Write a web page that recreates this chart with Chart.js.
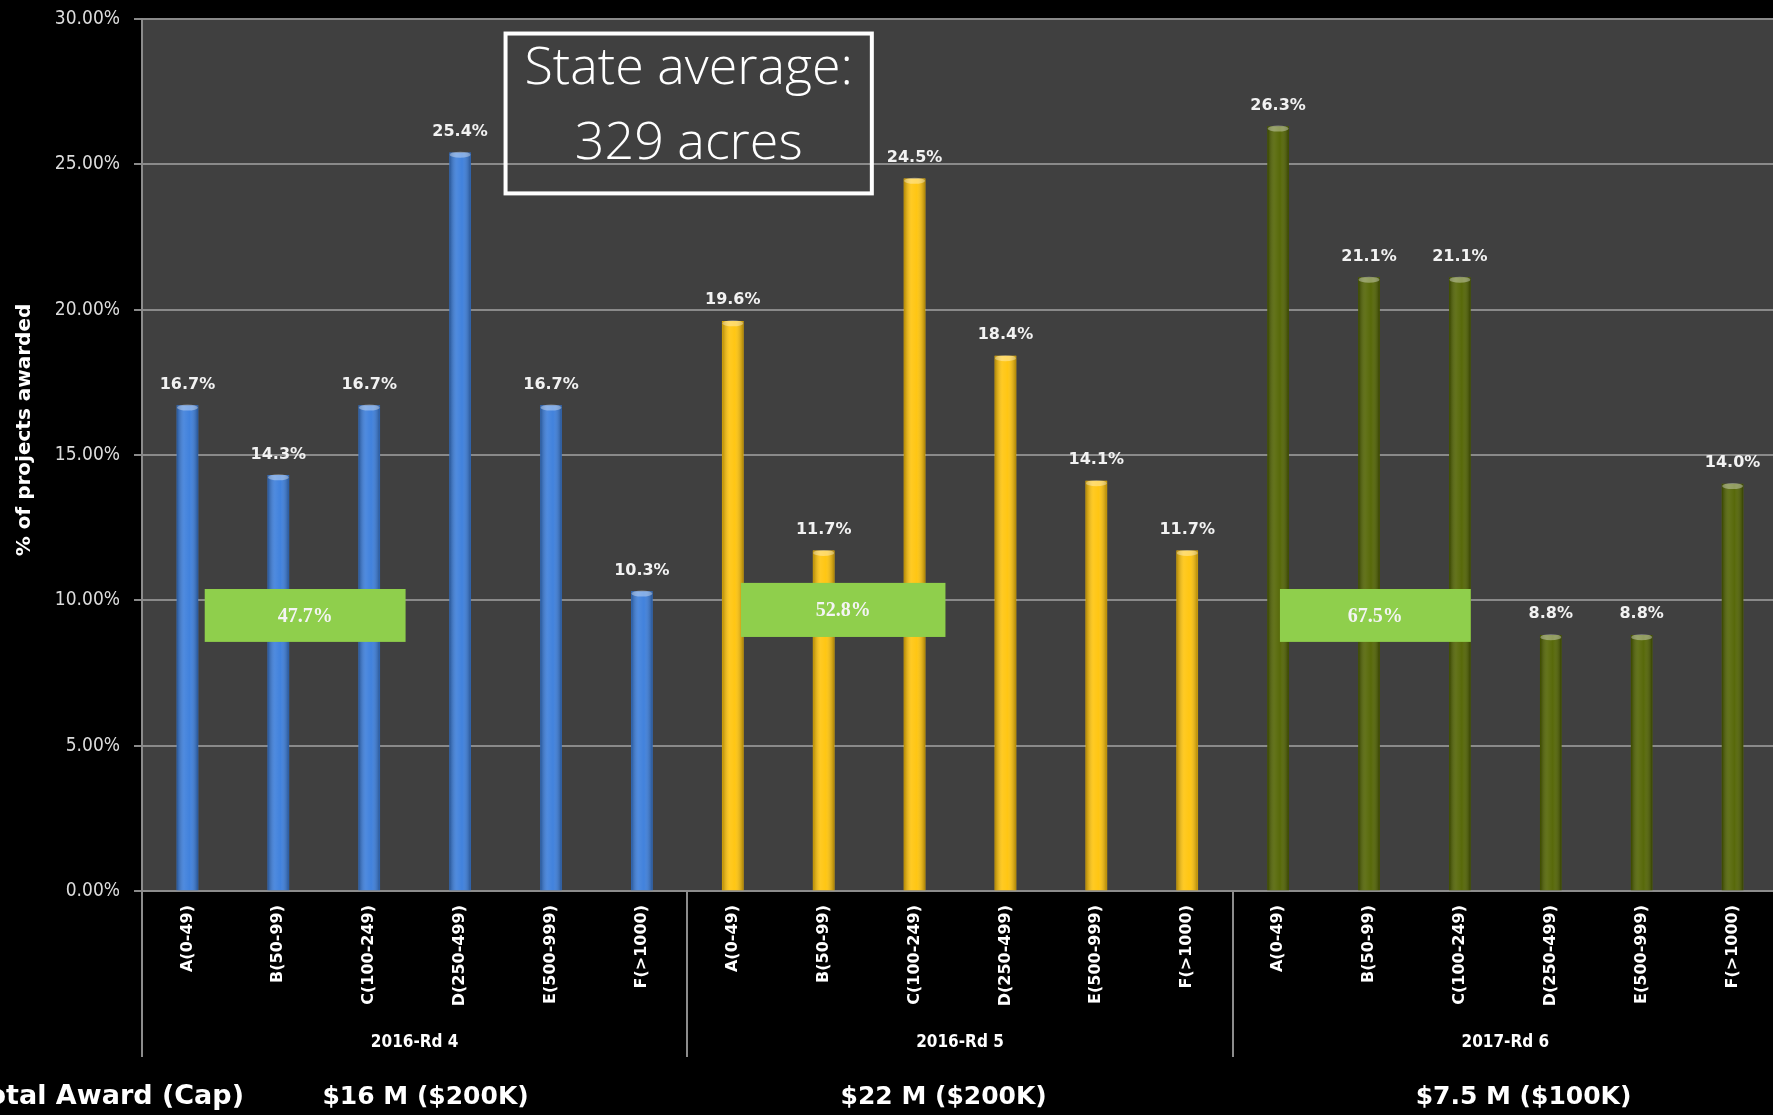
<!DOCTYPE html>
<html>
<head>
<meta charset="utf-8">
<script src="https://cdn.jsdelivr.net/npm/chart.js@4/dist/chart.umd.min.js"></script>
<style>
  html, body { margin:0; padding:0; background:#000; overflow:hidden; }
  canvas { display:block; }
</style>
</head>
<body>
<canvas id="c" width="1778" height="1115" style="width:1778px;height:1115px"></canvas>
<script>
// ---- data ----
const sizeClasses = ['A(0-49)','B(50-99)','C(100-249)','D(250-499)','E(500-999)','F(>1000)'];
const rounds = ['2016-Rd 4','2016-Rd 5','2017-Rd 6'];
const rd4Values = [16.7, 14.3, 16.7, 25.4, 16.7, 10.3];
const rd5Values = [19.6, 11.7, 24.5, 18.4, 14.1, 11.7];
const rd6Values = [26.3, 21.1, 21.1, 8.8, 8.8, 14.0];
const roundColors = ['#3a7ddb', '#ffc40a', '#516300'];
const smallShare = ['47.7%', '52.8%', '67.5%'];
const awardLabel = 'Total Award (Cap)';
const awards = ['$16 M ($200K)', '$22 M ($200K)', '$7.5 M ($100K)'];
const noteLines = ['State average:', '329 acres'];
const yTitle = '% of projects awarded';

// ---- build ----
const labels = [].concat(sizeClasses, sizeClasses, sizeClasses);
const values = [].concat(rd4Values, rd5Values, rd6Values);
const colors = values.map((v, i) => roundColors[Math.floor(i / sizeClasses.length)]);

const narrow = "'Liberation Sans Narrow','DejaVu Sans Condensed','Liberation Sans',sans-serif";
const boldSans = "'DejaVu Sans',Verdana,sans-serif";

// annotation placement in scale units (category index, value %)
const greenBoxes = [
  {x0: 0.19, x1: 2.4, y0: 8.57, y1: 10.39},
  {x0: 6.09, x1: 8.34, y0: 8.74, y1: 10.6},
  {x0: 12.02, x1: 14.12, y0: 8.57, y1: 10.39}
];
const noteBox = {x0: 3.5, x1: 7.53, y0: 24.0, y1: 29.5};
const awardPos = [2.62, 8.32, 14.7];

const decor = {
  id: 'decor',
  beforeDraw(chart) {
    const {ctx, chartArea: a} = chart;
    ctx.save();
    ctx.fillStyle = '#000';
    ctx.fillRect(0, 0, chart.width, chart.height);
    ctx.fillStyle = '#404040';
    ctx.fillRect(a.left, a.top, chart.width - a.left, a.bottom - a.top);
    ctx.restore();
  },
  afterDatasetsDraw(chart) {
    const {ctx, chartArea: a, scales: {x, y}} = chart;
    const meta = chart.getDatasetMeta(0);
    ctx.save();
    // cylinder shading on bars
    meta.data.forEach((bar) => {
      const p = bar.getProps(['x', 'y', 'base', 'width'], true);
      const l = p.x - p.width / 2;
      const g = ctx.createLinearGradient(l, 0, l + p.width, 0);
      g.addColorStop(0, 'rgba(0,0,0,0.30)');
      g.addColorStop(0.35, 'rgba(255,255,255,0.10)');
      g.addColorStop(0.6, 'rgba(255,255,255,0.04)');
      g.addColorStop(1, 'rgba(0,0,0,0.32)');
      ctx.fillStyle = g;
      ctx.fillRect(l, p.y, p.width, p.base - p.y);
      ctx.fillStyle = 'rgba(255,255,255,0.35)';
      ctx.beginPath();
      ctx.ellipse(p.x, p.y + 2, p.width / 2, 3, 0, 0, Math.PI * 2);
      ctx.fill();
    });
    // value labels
    ctx.fillStyle = '#f2f2f2';
    ctx.font = 'bold 16px ' + boldSans;
    ctx.textAlign = 'center';
    ctx.textBaseline = 'bottom';
    meta.data.forEach((bar, i) => {
      ctx.fillText(values[i].toFixed(1) + '%', bar.x, bar.y - 13);
    });
    // green share boxes
    greenBoxes.forEach((b, i) => {
      const l = x.getPixelForValue(b.x0), r = x.getPixelForValue(b.x1);
      const t = y.getPixelForValue(b.y1), btm = y.getPixelForValue(b.y0);
      ctx.fillStyle = '#8fcf4c';
      ctx.fillRect(l, t, r - l, btm - t);
      ctx.fillStyle = '#f4f4f4';
      ctx.font = 'bold 20px "Liberation Serif","DejaVu Serif",serif';
      ctx.textBaseline = 'middle';
      ctx.fillText(smallShare[i], (l + r) / 2, (t + btm) / 2 + 1);
    });
    // state average box
    {
      const l = x.getPixelForValue(noteBox.x0), r = x.getPixelForValue(noteBox.x1);
      const t = y.getPixelForValue(noteBox.y1), btm = y.getPixelForValue(noteBox.y0);
      ctx.strokeStyle = '#ffffff';
      ctx.lineWidth = 4;
      ctx.strokeRect(l, t, r - l, btm - t);
      ctx.fillStyle = '#ffffff';
      ctx.font = '300 52px "Open Sans",Lato,sans-serif';
      ctx.textBaseline = 'middle';
      const cx = (l + r) / 2, h = btm - t;
      ctx.fillText(noteLines[0], cx, t + h * 0.22);
      ctx.fillText(noteLines[1], cx, t + h * 0.69);
    }
    ctx.restore();
  },
  afterDraw(chart) {
    const {ctx, chartArea: a, scales: {x}} = chart;
    ctx.save();
    const lineBottom = 1057;
    ctx.strokeStyle = '#8c8c8c';
    ctx.lineWidth = 2;
    ctx.beginPath();
    ctx.moveTo(a.left, a.bottom); ctx.lineTo(a.left, lineBottom);
    [5.5, 11.5].forEach(v => {
      const px = Math.round(x.getPixelForValue(v));
      ctx.moveTo(px, a.bottom); ctx.lineTo(px, lineBottom);
    });
    ctx.stroke();
    // group labels
    ctx.fillStyle = '#ffffff';
    ctx.textAlign = 'center';
    ctx.textBaseline = 'middle';
    ctx.font = 'bold 17px ' + narrow;
    rounds.forEach((r, i) => {
      ctx.fillText(r, x.getPixelForValue(i * 6 + 2.5), 1043);
    });
    // award line
    ctx.font = 'bold 27px ' + boldSans;
    ctx.textAlign = 'right';
    ctx.fillText(awardLabel, 244, 1097);
    ctx.font = 'bold 25px ' + boldSans;
    ctx.textAlign = 'center';
    awards.forEach((t, i) => ctx.fillText(t, x.getPixelForValue(awardPos[i]), 1097));
    // y title
    ctx.translate(25, 430);
    ctx.rotate(-Math.PI / 2);
    ctx.font = 'bold 20px ' + boldSans;
    ctx.fillText(yTitle, 0, 0);
    ctx.restore();
  }
};

new Chart(document.getElementById('c'), {
  type: 'bar',
  data: {
    labels: labels,
    datasets: [{
      data: values,
      backgroundColor: colors,
      borderWidth: 0,
      barThickness: 21
    }]
  },
  options: {
    responsive: false,
    devicePixelRatio: 1,
    animation: false,
    layout: { padding: { top: 19, left: 0, right: 0, bottom: 0 } },
    plugins: { legend: { display: false }, tooltip: { enabled: false } },
    scales: {
      x: {
        grid: { display: false, drawTicks: false },
        border: { display: true, color: '#8c8c8c', width: 2 },
        ticks: {
          autoSkip: false, minRotation: 90, maxRotation: 90, padding: 14,
          color: '#ffffff', font: { family: boldSans, size: 16, weight: 'bold' }
        },
        afterFit(s) { s.height = 224; s.paddingLeft = 0; s.paddingRight = 0; }
      },
      y: {
        min: 0, max: 30,
        ticks: {
          stepSize: 5, padding: 14, color: '#dcdcdc',
          font: { family: narrow, size: 19 },
          callback: v => Number(v).toFixed(2) + '%'
        },
        grid: { color: '#8a8a8a', lineWidth: 2, drawTicks: true, tickLength: 8 },
        border: { display: true, color: '#8c8c8c', width: 2 },
        afterFit(s) { s.width = 142; s.paddingTop = 0; s.paddingBottom = 0; }
      }
    }
  },
  plugins: [decor]
});
</script>
</body>
</html>
